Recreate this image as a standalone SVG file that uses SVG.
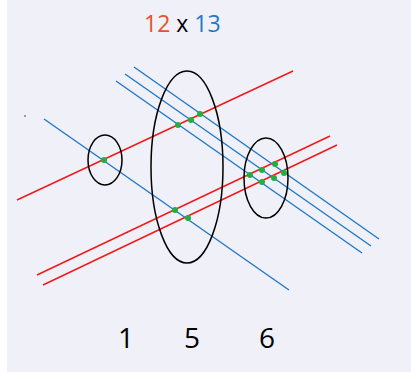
<svg xmlns="http://www.w3.org/2000/svg" width="411" height="372" viewBox="0 0 411 372">
<style>
.r{stroke:#f01818;stroke-width:1.4;fill:none}
.b{stroke:#1f78c8;stroke-width:1.4;fill:none}
.e{stroke:#000;stroke-width:1.5;fill:none}
.d{fill:#1fb040}
.t{font-family:"Open Sans","Noto Sans",sans-serif}
</style>
<rect x="0" y="0" width="411" height="372" fill="#ffffff"/>
<rect x="7" y="0" width="404" height="372" fill="#f0f0f8"/>
<text class="t" x="144" y="32" font-size="23"><tspan fill="#e8502a">12</tspan><tspan fill="#000"> x </tspan><tspan fill="#1f78c8">13</tspan></text>
<g id="connectors">
<line class="r" x1="17" y1="200" x2="293" y2="71"/>
<line class="r" x1="37" y1="275" x2="330" y2="136"/>
<line class="r" x1="43" y1="285" x2="337" y2="145"/>
<line class="b" x1="44" y1="119" x2="289" y2="290"/>
<line class="b" x1="134" y1="67" x2="379" y2="239"/>
<line class="b" x1="125" y1="74" x2="371" y2="246"/>
<line class="b" x1="116" y1="81" x2="362" y2="253"/>
</g>
<g id="group1">
<ellipse class="e" cx="105" cy="160" rx="17" ry="25"/>
<circle class="d" cx="104" cy="160" r="3"/>
<text class="t" x="126" y="348" font-size="28" text-anchor="middle">1</text>
</g>
<g id="group5">
<ellipse class="e" cx="187" cy="167" rx="36" ry="96"/>
<circle class="d" cx="178" cy="125" r="3"/>
<circle class="d" cx="191" cy="120" r="3"/>
<circle class="d" cx="200" cy="114" r="3"/>
<circle class="d" cx="175" cy="210" r="3"/>
<circle class="d" cx="188" cy="218" r="3"/>
<text class="t" x="192" y="348" font-size="28" text-anchor="middle">5</text>
</g>
<g id="group6">
<ellipse class="e" cx="266" cy="178" rx="22" ry="40"/>
<circle class="d" cx="250" cy="175" r="3"/>
<circle class="d" cx="262" cy="170" r="3"/>
<circle class="d" cx="275" cy="164" r="3"/>
<circle class="d" cx="262" cy="182" r="3"/>
<circle class="d" cx="274" cy="178" r="3"/>
<circle class="d" cx="284" cy="173" r="3"/>
<text class="t" x="267" y="348" font-size="28" text-anchor="middle">6</text>
</g>
<circle cx="25" cy="116" r="0.7" fill="#000"/>
</svg>
